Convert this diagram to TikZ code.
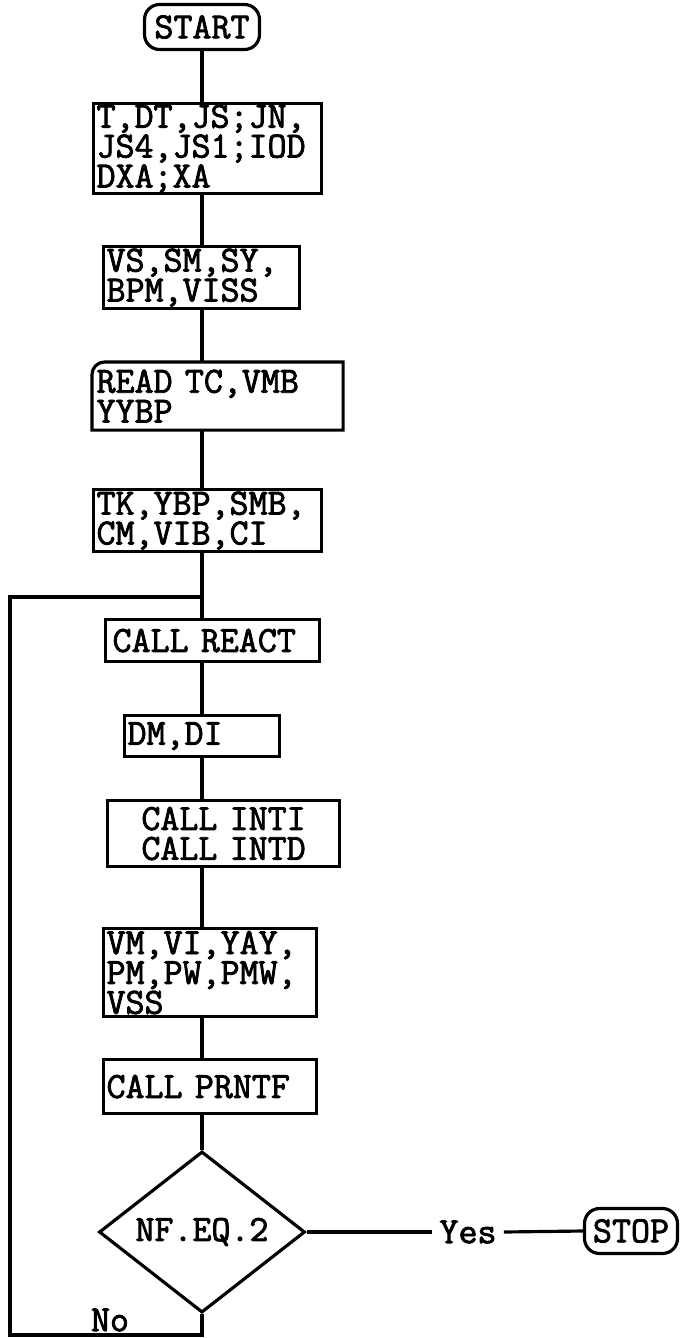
\documentclass[tikz,border=0pt]{standalone}
\usepackage{fontspec}
\setmonofont[AutoFakeBold=2.2]{Latin Modern Mono}
\usetikzlibrary{shapes.geometric}
\newcommand{\chartfont}{\fontsize{21}{17}\selectfont\ttfamily\bfseries}

\begin{document}
\begin{tikzpicture}[x=0.02cm, y=-0.02cm, line width=1.8pt,
    every node/.style={font=\chartfont},
    proc/.style={draw, anchor=north west, align=left, inner xsep=0.06cm, inner ysep=0pt},
    term/.style={draw, rounded corners=0.3cm, minimum height=0.9cm, inner sep=0pt},
    decision/.style={draw, diamond, minimum width=4.12cm, minimum height=2.42cm, inner sep=0pt}]
    \useasboundingbox (0,0) rectangle (681,1338);
    % terminals
    \node[term, minimum width=2.3cm] (start) at (202,27) {START};
    \node[term, minimum width=1.86cm] (stop) at (631,1231) {STOP};
    % process boxes
    \node[proc, text width=4.44cm, minimum height=1.8cm] (vars) at (92,102) {T,DT,JS;JN,\\JS4,JS1;IOD\\DXA;XA};
    \node[proc, text width=3.80cm, minimum height=1.24cm] (props) at (102,245) {VS,SM,SY,\\BPM,VISS};
    \node[proc, draw=none, text width=4.84cm, minimum height=1.3cm] (read) at (92,362) {READ TC,VMB\\YYBP};
    \draw (read.south west) -- ([yshift=-0.25cm]read.north west)
      arc[start angle=180, end angle=90, radius=0.25cm] -- (read.north east)
      -- (read.south east) -- cycle;
    \node[proc, text width=4.44cm, minimum height=1.24cm] (init) at (92,488) {TK,YBP,SMB,\\CM,VIB,CI};
    \node[proc, text width=4.00cm, inner xsep=0.14cm, minimum height=0.84cm] (react) at (104,618) {CALL REACT};
    \node[proc, text width=2.98cm, minimum height=0.82cm] (dmdi) at (123,714) {DM,DI};
    \node[proc, align=center, text width=4.52cm, minimum height=1.32cm] (integ) at (106,799) {CALL INTI\\CALL INTD};
    \node[proc, text width=4.14cm, minimum height=1.76cm] (vm) at (102,927) {VM,VI,YAY,\\PM,PW,PMW,\\VSS};
    \node[proc, text width=4.14cm, minimum height=1.08cm] (prntf) at (102,1058) {CALL PRNTF};
    % decision
    \node[decision] (check) at (202,1232) {NF.EQ.2};
    \node (yes) at (468,1232) {Yes};
    \node (no) at (110,1320) {No};
    \coordinate (lbot) at (10,1335);
    \coordinate (ltop) at (10,597);
    % main line
    \draw (start.south) -- (start.south |- vars.north);
    \draw (vars.south -| start) -- (props.north -| start);
    \draw (props.south -| start) -- (read.north -| start);
    \draw (read.south -| start) -- (init.north -| start);
    \draw (init.south -| start) -- (react.north -| start);
    \draw (react.south -| start) -- (dmdi.north -| start);
    \draw (dmdi.south -| start) -- (integ.north -| start);
    \draw (integ.south -| start) -- (vm.north -| start);
    \draw (vm.south -| start) -- (prntf.north -| start);
    \draw (prntf.south -| start) -- (check.north);
    \draw (check.east) -- (yes.west);
    \draw (yes.east) -- (stop.west);
    % loop back
    \draw (check.south) -- (check.south |- lbot) -- (lbot) -- (ltop) -- (ltop -| start);
\end{tikzpicture}
\end{document}
